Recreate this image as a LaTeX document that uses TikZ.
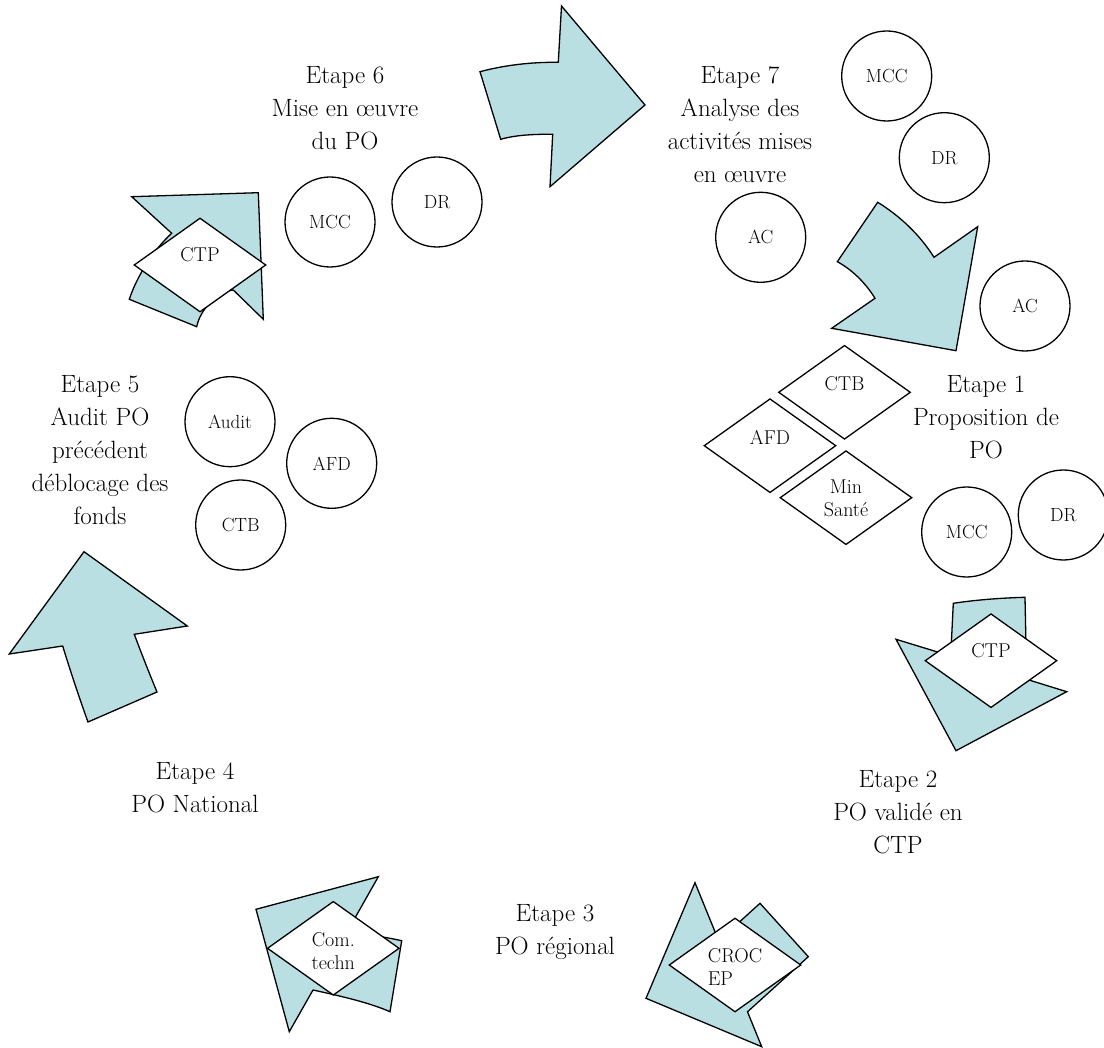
\documentclass[tikz,border=0pt]{standalone}
\usepackage{fontspec}
\usetikzlibrary{shapes.geometric}
\definecolor{arrowfill}{RGB}{185,223,227}
\begin{document}
\begin{tikzpicture}[x=1pt,y=-1pt,
  shp/.style={fill=arrowfill,draw=black,line width=1.3pt,line join=miter},
  circ/.style={circle,draw=black,line width=1.3pt,fill=white,minimum size=90pt,inner sep=0pt,font=\fontsize{19}{22}\selectfont},
  dia/.style={diamond,draw=black,line width=1.3pt,fill=white,minimum width=132pt,minimum height=94pt,inner sep=0pt},
  dtxt/.style={font=\fontsize{20}{23}\selectfont,align=center,inner sep=0pt},
  stage/.style={font=\fontsize{25}{33}\selectfont,align=center,inner sep=0pt,anchor=north}]
\useasboundingbox[fill=white] (0,0) rectangle (1104,1048);

% arrows (block arrows)
\draw[shp] (480,71.7) .. controls (505,65) and (532,62) .. (558.3,62.3) -- (561.5,6) -- (645,105) -- (550,186.7) -- (552.7,134.3) .. controls (528,134) and (512,136) .. (500.7,139.3) -- cycle;
\draw[shp] (877.7,202.3) .. controls (900,216) and (920,235) .. (934,257.3) -- (977.7,226.7) -- (956,350.7) -- (831.7,328.3) -- (875,298.3) .. controls (865,282) and (851,269) .. (837.3,261.7) -- cycle;
\draw[shp] (953.3,603.3) .. controls (975,600) and (1000,598) .. (1025,597.3) -- (1026.7,679.3) -- (1066.7,691.7) -- (956,750.7) -- (896,639.3) -- (950.7,656) -- cycle;
\draw[shp] (760,903.3) -- (808.3,956.7) -- (747.5,1011.8) -- (761.7,1046.7) -- (646,998.3) -- (695,882.7) -- (718.7,940.8) -- cycle;
\draw[shp] (401.7,940.7) -- (390,1011.7) .. controls (370,1003) and (345,997) .. (313,990) -- (289.3,1031.7) -- (256,909.3) -- (378.3,876.7) -- (347,932) .. controls (365,934) and (385,937) .. (401.7,940.7) -- cycle;
\draw[shp] (84,551.7) -- (187.3,626) -- (134.3,634.3) .. controls (142,655) and (150,675) .. (157,692) -- (88,722) .. controls (80,700) and (70,670) .. (62.7,646) -- (9.3,654) -- cycle;
\draw[shp] (258.3,192.7) -- (263.3,319.3) -- (233.3,290) .. controls (216.7,291.7) and (200,310) .. (196.7,326.7) -- (129.3,299.3) .. controls (136.7,276.7) and (153.3,250) .. (171.7,233.3) -- (131.7,196.7) -- cycle;

% circles
\node[circ] (mcc7) at (886.7,76) {MCC};
\node[circ] (dr7) at (944.3,157.7) {DR};
\node[circ] (ac7) at (760.7,237.3) {AC};
\node[circ] (ac1) at (1025,306) {AC};
\node[circ] (mcc1) at (966.7,532) {MCC};
\node[circ] (dr1) at (1063.3,515) {DR};
\node[circ] (audit5) at (230,421.7) {Audit};
\node[circ] (afd5) at (331.7,463.3) {AFD};
\node[circ] (ctb5) at (240.7,525) {CTB};
\node[circ] (mcc6) at (330,222) {MCC};
\node[circ] (dr6) at (437,202) {DR};

% diamonds
\node[dia] (ctb1) at (844.5,392.3) {};
\node[dtxt] (ctb1t) at ([yshift=9pt]ctb1.center) {CTB};
\node[dia] (afd1) at (770,445.7) {};
\node[dtxt] (afd1t) at ([yshift=8pt]afd1.center) {AFD};
\node[dia] (min1) at (846,497.7) {};
\node[dtxt] (min1t) at ([yshift=-1pt]min1.center) {Min\\Santé};
\node[dia] (ctp2) at (991,660.7) {};
\node[dtxt] (ctp2t) at ([yshift=10pt]ctp2.center) {CTP};
\node[dia] (croc3) at (735,965) {};
\node[dtxt,align=left] (croc3t) at ([yshift=-2pt]croc3.center) {CROC\\EP};
\node[dia] (com4) at (333.3,948.3) {};
\node[dtxt] (com4t) at ([yshift=-3pt]com4.center) {Com.\\techn};
\node[dia] (ctp6) at (200,265) {};
\node[dtxt] (ctp6t) at ([yshift=10pt]ctp6.center) {CTP};

% stage labels
\node[stage] (e1) at (986,375) {Etape 1\\Proposition de\\PO};
\node[stage] (e2) at (898,770) {Etape 2\\PO validé en\\CTP};
\node[stage] (e3) at (555,904) {Etape 3\\PO régional};
\node[stage] (e4) at (195,762) {Etape 4\\PO National};
\node[stage] (e5) at (100,375) {Etape 5\\Audit PO\\précédent\\déblocage des\\fonds};
\node[stage] (e6) at (345,66) {Etape 6\\Mise en œuvre\\du PO};
\node[stage] (e7) at (740,66) {Etape 7\\Analyse des\\activités mises\\en œuvre};
\end{tikzpicture}
\end{document}
